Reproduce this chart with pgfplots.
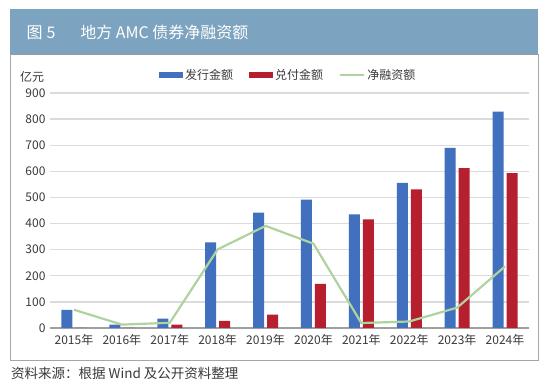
\documentclass[border=0pt]{standalone}
\usepackage{pgfplots}
\pgfplotsset{compat=1.18}
\usepackage{fontspec}
\setmainfont{Noto Sans CJK SC}
\definecolor{barblue}{HTML}{4170BE}
\definecolor{barred}{HTML}{B51F2E}
\definecolor{netgreen}{HTML}{AFD39F}
\definecolor{titlebar}{HTML}{7CA3BF}
\definecolor{txt}{HTML}{3A3A3A}
\begin{document}
\begin{tikzpicture}[x=1pt,y=1pt]
\path[use as bounding box, fill=white] (0pt,0pt) rectangle (550pt,389pt);
% title bar
\fill[titlebar] (10pt,335pt) rectangle (538pt,380pt);
\draw[gray!80, line width=0.8pt] (10pt,335pt) -- (538pt,335pt);
\node[anchor=west, text=white, font=\fontsize{16}{16}\selectfont] at (23pt,357pt) {图\hspace{4pt}5\hspace{25pt}地方 AMC 债券净融资额};
% frame
\draw[gray!70, line width=0.8pt] (10pt,335pt) -- (10pt,29pt) -- (538pt,29pt) -- (538pt,335pt);
% unit
\node[anchor=center, text=txt, font=\fontsize{12}{12}\selectfont] at (32pt,312pt) {亿元};
% source
\node[anchor=west, text=txt, font=\fontsize{13.5}{13.5}\selectfont, inner sep=0pt] at (11pt,16pt) {资料来源：根据 Wind 及公开资料整理};
\begin{axis}[
  at={(50pt,61pt)}, anchor=south west,
  scale only axis, width=479pt, height=235pt,
  xmin=-0.5, xmax=9.5, ymin=0, ymax=900,
  xtick={0,...,9},
  xticklabels={2015年,2016年,2017年,2018年,2019年,2020年,2021年,2022年,2023年,2024年},
  ytick={0,100,...,900},
  major tick length=0pt,
  axis x line*=bottom, axis y line*=left,
  y axis line style={draw=none},
  x axis line style={draw=gray!75, line width=1.2pt},
  ymajorgrids, grid style={draw=gray!28, line width=1.4pt},
  tick label style={text=txt, font=\fontsize{12}{12}\selectfont},
  /pgf/number format/assume math mode=true,
  xticklabel style={yshift=-3pt},
  yticklabel style={xshift=-1pt},
  legend columns=3,
  legend style={draw=none, fill=none, at={(0.2276,1.0766)}, anchor=west, inner sep=0pt,
    font=\fontsize{12}{12}\selectfont, text=txt,
    /tikz/every even column/.append style={column sep=14pt},
    nodes={inner sep=2pt}},
]
\addplot[ybar, bar width=11pt, bar shift=-7pt, fill=barblue, draw=none,
  legend image code/.code={\fill[barblue] (0pt,-3pt) rectangle (24pt,3pt);}]
  coordinates {(0,69) (1,13) (2,36) (3,328) (4,442) (5,492) (6,435) (7,556) (8,690) (9,829)};
\addlegendentry{发行金额}
\addplot[ybar, bar width=11pt, bar shift=7pt, fill=barred, draw=none,
  legend image code/.code={\fill[barred] (0pt,-3pt) rectangle (24pt,3pt);}]
  coordinates {(0,0) (1,0) (2,13) (3,27) (4,51) (5,169) (6,416) (7,531) (8,612) (9,593)};
\addlegendentry{兑付金额}
\addplot[sharp plot, color=netgreen, line width=2.2pt, mark=none,
  legend image code/.code={\draw[netgreen, line width=2.2pt] (0pt,0pt) -- (24pt,0pt);}]
  coordinates {(0,70) (1,13) (2,20) (3,301) (4,391) (5,323) (6,19) (7,25) (8,78) (9,236)};
\addlegendentry{净融资额}
\end{axis}
\end{tikzpicture}
\end{document}
